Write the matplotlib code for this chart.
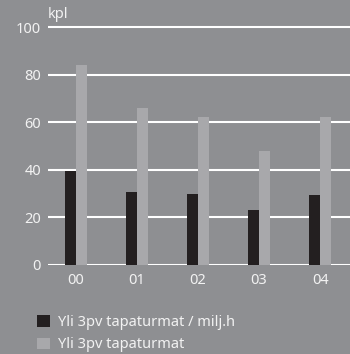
import matplotlib
matplotlib.use("Agg")
import matplotlib.pyplot as plt
import numpy as np

categories = ["00", "01", "02", "03", "04"]
per_million_hours = [39.5, 30.7, 29.8, 23.1, 29.4]
accidents = [84, 66, 62.3, 47.9, 62.3]
series_names = ["Yli 3pv tapaturmat / milj.h", "Yli 3pv tapaturmat"]

bg = "#8e8f92"
dark = "#231f20"
light = "#a8a8ab"
txt = "#f2f2f2"

plt.rcParams['font.family'] = ['Noto Sans', 'DejaVu Sans']

fig = plt.figure(figsize=(3.5, 3.54), dpi=100, facecolor=bg)
ax = fig.add_axes([48 / 350, 89 / 354, 302 / 350, 245 / 354], facecolor=bg)

x = np.arange(len(categories))
w = 0.18
ax.bar(x - w / 2, per_million_hours, width=w, color=dark, label=series_names[0], zorder=3)
ax.bar(x + w / 2, accidents, width=w, color=light, label=series_names[1], zorder=2)

ax.set_xlim(-0.459, 4.49)
ax.set_ylim(0, 103)
ax.set_yticks([0, 20, 40, 60, 80, 100])
ax.yaxis.grid(True, color="white", linewidth=1.5, zorder=1)
ax.set_axisbelow(True)
ax.set_xticks(x)
ax.set_xticklabels(categories)
for s in ax.spines.values():
    s.set_visible(False)
ax.tick_params(length=0, colors=txt, labelsize=10.5)
ax.tick_params(axis="y", pad=5)
ax.tick_params(axis="x", pad=6)

fig.text(48 / 350, 1 - 15 / 354, "kpl", color=txt, fontsize=10.5, va="center", ha="left")

leg = fig.legend(loc="upper left", bbox_to_anchor=(24 / 350, 1 - 302 / 354), frameon=False,
                 handlelength=0.85, handleheight=0.85, handletextpad=0.55, labelspacing=0.5,
                 fontsize=10.5, labelcolor=txt)

fig.savefig("out.png", dpi=100, facecolor=bg)
